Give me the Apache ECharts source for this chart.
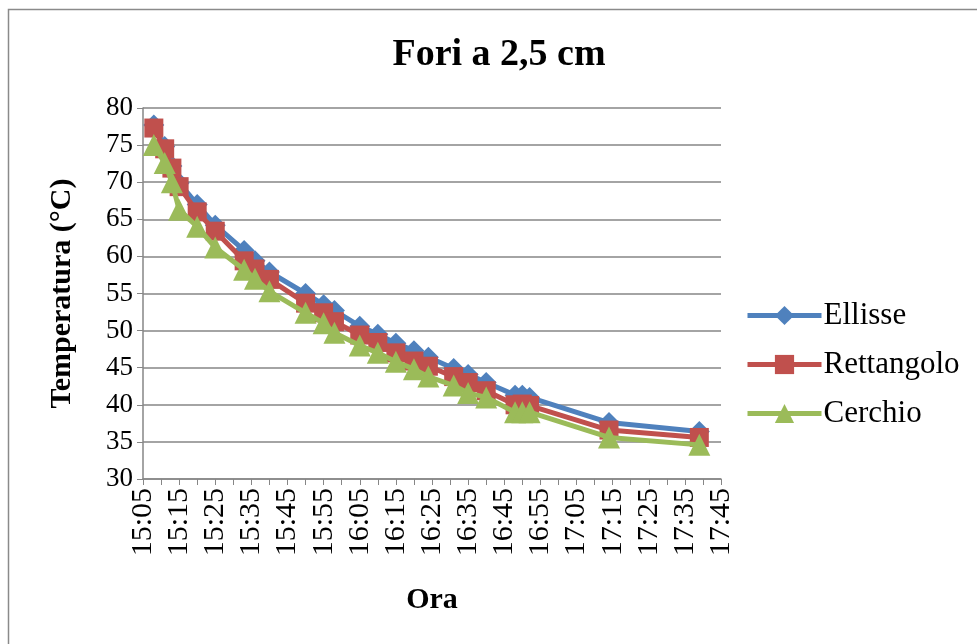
<!DOCTYPE html>
<html>
<head>
<meta charset="utf-8">
<script src="https://cdn.jsdelivr.net/npm/echarts@6/dist/echarts.min.js"></script>
<style>
html,body{margin:0;padding:0;background:#fff;}
#chart{width:977px;height:644px;}
</style>
</head>
<body>
<div id="chart"></div>
<script>
// minutes after 15:05
var times = [3, 6, 8, 10, 15, 20, 28, 31, 35, 45, 50, 53, 60, 65, 70, 75, 79, 86, 90, 95, 103, 105, 107, 129, 154];
var ellisse = [77.7, 74.8, 72.2, 69.9, 67.0, 64.2, 60.8, 59.4, 57.9, 55.0, 53.5, 52.7, 50.6, 49.5, 48.3, 47.3, 46.4, 44.9, 44.1, 43.0, 41.3, 41.3, 41.0, 37.6, 36.4];
var rettangolo = [77.3, 74.5, 71.9, 69.4, 66.0, 63.4, 59.4, 58.3, 56.9, 53.7, 52.4, 51.2, 49.4, 48.4, 47.0, 45.9, 45.2, 43.8, 43.0, 41.9, 40.0, 40.1, 39.9, 36.6, 35.6];
var cerchio = [75.0, 72.6, 70.0, 66.3, 64.0, 61.2, 58.2, 57.0, 55.3, 52.4, 51.0, 49.7, 48.0, 47.0, 45.8, 44.8, 43.8, 42.6, 41.6, 41.0, 39.0, 39.0, 39.0, 35.6, 34.6];
var seriesNames = ['Ellisse', 'Rettangolo', 'Cerchio'];
var yTicks = [30, 35, 40, 45, 50, 55, 60, 65, 70, 75, 80];

function pairs(ys){ return times.map(function(t,i){ return [t, ys[i]]; }); }
function fmtTime(v){
  var m = 905 + v;
  var h = Math.floor(m/60), mm = m % 60;
  return h + ':' + (mm < 10 ? '0' + mm : mm);
}

var font = 'Liberation Serif';
var colors = ['#4F81BD', '#C0504D', '#9BBB59'];
var symbols = ['diamond', 'rect', 'triangle'];
var sizes = [21, 19, 22];
var datas = [ellisse, rettangolo, cerchio];

var chart = echarts.init(document.getElementById('chart'), null, {renderer:'canvas'});
chart.setOption({
  animation: false,
  backgroundColor: '#fff',
  textStyle: {fontFamily: font},
  graphic: [{
    type: 'rect', shape: {x: 8.5, y: 9.5, width: 1000, height: 700},
    style: {fill: 'none', stroke: '#8a8a8a', lineWidth: 1.5}, silent: true
  }],
  title: {
    text: 'Fori a 2,5 cm', left: 494, top: 31, textAlign: 'center',
    textStyle: {fontFamily: font, fontSize: 38, fontWeight: 'bold', color: '#000'}
  },
  legend: {
    orient: 'vertical', left: 740, top: 295, itemGap: 18,
    itemWidth: 74, itemHeight: 24,
    lineStyle: {width: 5},
    textStyle: {fontFamily: font, fontSize: 31, color: '#000', padding: [0,0,0,-3]},
    data: seriesNames
  },
  grid: {left: 143, right: 256, top: 108, bottom: 165, containLabel: false},
  xAxis: {
    type: 'value', min: 0, max: 160, interval: 5,
    name: 'Ora', nameLocation: 'middle', nameGap: 106,
    nameTextStyle: {fontFamily: font, fontSize: 30, fontWeight: 'bold', color: '#000'},
    axisLine: {lineStyle: {color: '#868686', width: 1.5}},
    axisTick: {show: true, inside: false, length: 6, lineStyle: {color: '#868686'}},
    splitLine: {show: false},
    axisLabel: {
      rotate: 90, fontFamily: font, fontSize: 30, color: '#000', margin: 9,
      showMinLabel: true, showMaxLabel: true,
      formatter: function(v){ return (v % 10 === 0) ? fmtTime(v) : ''; }
    }
  },
  yAxis: {
    type: 'value', min: yTicks[0], max: yTicks[yTicks.length-1], interval: 5,
    name: 'Temperatura (°C)', nameLocation: 'middle', nameGap: 66,
    nameTextStyle: {fontFamily: font, fontSize: 30, fontWeight: 'bold', color: '#000'},
    axisLine: {show: true, lineStyle: {color: '#868686', width: 1.5}},
    axisTick: {show: true, inside: false, length: 6, lineStyle: {color: '#868686'}},
    splitLine: {lineStyle: {color: '#868686', width: 1.5}},
    axisLabel: {fontFamily: font, fontSize: 27, color: '#000', margin: 10}
  },
  series: seriesNames.map(function(n, i){
    return {
      name: n, type: 'line', data: pairs(datas[i]),
      symbol: symbols[i], symbolSize: sizes[i], showAllSymbol: true,
      lineStyle: {color: colors[i], width: 5},
      itemStyle: {color: colors[i]},
      z: 2 + i
    };
  })
});
</script>
</body>
</html>
